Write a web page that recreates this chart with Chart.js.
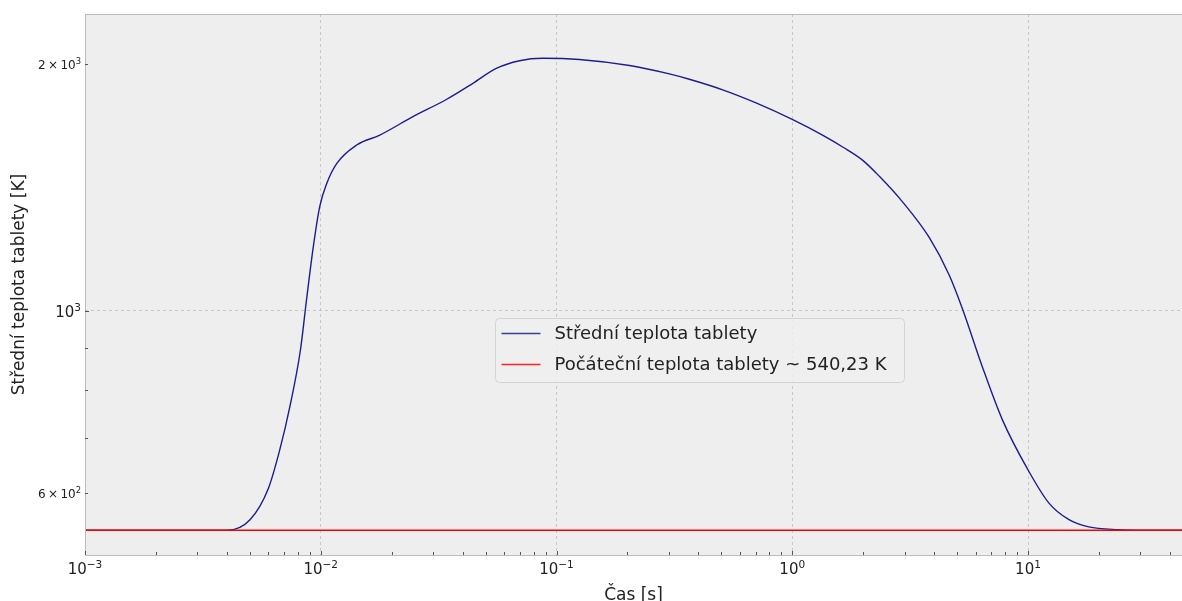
<!DOCTYPE html>
<html>
<head>
<meta charset="utf-8">
<script src="https://cdn.jsdelivr.net/npm/chart.js@4.4.1/dist/chart.umd.min.js"></script>
<style>
  html, body { margin: 0; padding: 0; background: #ffffff; }
  #wrap { position: relative; width: 1182px; height: 601px; overflow: hidden; }
</style>
</head>
<body>
<div id="wrap">
  <canvas id="c" width="1182" height="601"></canvas>
</div>
<script>
// ---- data ----
const timeS = [0.001, 0.004, 0.005, 0.006, 0.0067, 0.0074, 0.0082, 0.0087, 0.0093, 0.0099,
  0.0106, 0.0117, 0.0142, 0.0178, 0.0246, 0.0341, 0.0442, 0.0555, 0.0697, 0.0873,
  0.125, 0.204, 0.301, 0.366, 0.507, 0.702, 1.0, 1.344, 1.65, 1.986,
  2.336, 2.93, 3.81, 4.63, 5.27, 6.40, 7.78, 10.0, 12.27, 14.92,
  18.1, 24.2, 32.0, 45.0];
const meanTempK = [540.23, 540.23, 556, 608, 677, 765, 896, 1031, 1198, 1340,
  1430, 1513, 1593, 1638, 1725, 1810, 1894, 1975, 2018, 2032,
  2025, 1991, 1945, 1916, 1860, 1793, 1712, 1638, 1582, 1527,
  1460, 1359, 1229, 1106, 1006, 855, 737, 640, 583, 556.5,
  545.3, 541.2, 540.4, 540.3];
const initialTempK = 540.23;
const initialTimeRange = [0.001, 45];

const seriesLabels = ['Střední teplota tablety', 'Počáteční teplota tablety ~ 540,23 K'];
const seriesColors = ['#1c1c8f', '#ff0000'];

const xMajorTicks = [0.001, 0.01, 0.1, 1, 10];
const xTickLabels = ['10⁻³', '10⁻²', '10⁻¹', '10⁰', '10¹'];
const xMinorMultipliers = [2, 3, 4, 5, 6, 7, 8, 9];
const yTicks = [600, 700, 800, 900, 1000, 2000];
const yLabeledTicks = [600, 1000, 2000];
const yTickLabels = ['6 × 10²', '10³', '2 × 10³'];
const yMajorTicks = [1000];

const xAxisTitle = 'Čas [s]';
const yAxisTitle = 'Střední teplota tablety [K]';

// ---- build ticks ----
const xAllTicks = [];
xMajorTicks.forEach(d => {
  xAllTicks.push(d);
  xMinorMultipliers.forEach(m => { const v = +(d * m).toPrecision(6); if (v <= initialTimeRange[1]) xAllTicks.push(v); });
});
const isXMajor = v => xMajorTicks.some(m => Math.abs(m - v) / m < 1e-6);
const isYMajor = v => yMajorTicks.includes(v);
const xLabelFor = v => { const i = xMajorTicks.findIndex(m => Math.abs(m - v) / m < 1e-6); return i >= 0 ? xTickLabels[i] : ''; };
const yLabelFor = v => { const i = yLabeledTicks.indexOf(v); return i >= 0 ? yTickLabels[i] : ''; };

const FONT = '"DejaVu Sans", sans-serif';
const SUP = { '⁰':'0','¹':'1','²':'2','³':'3','⁴':'4','⁵':'5','⁶':'6','⁷':'7','⁸':'8','⁹':'9','⁻':'−' };
function splitSup(label) {
  let base = '', exp = '';
  for (const ch of label) { if (SUP[ch] !== undefined) exp += SUP[ch]; else base += ch; }
  return { base: base.replace(/ × /g, '\u2009×\u2009'), exp };
}
// draws label as math-like text: base + raised exponent
function drawMathLabel(ctx, label, x, baseline, size, anchor) {
  const { base, exp } = splitSup(label);
  const es = size * 0.7;
  ctx.font = size + 'px ' + FONT;
  const bw = ctx.measureText(base).width;
  ctx.font = es + 'px ' + FONT;
  const ew = ctx.measureText(exp).width;
  const total = bw + ew;
  const x0 = anchor === 'center' ? x - total / 2 : x - total;
  ctx.textAlign = 'left';
  ctx.textBaseline = 'alphabetic';
  ctx.font = size + 'px ' + FONT;
  ctx.fillText(base, x0, baseline);
  ctx.font = es + 'px ' + FONT;
  ctx.fillText(exp, x0 + bw, baseline - size * 0.42);
}

// legend box layout (pixels)
const LEGEND = { left: 495.5, top: 318.5, width: 409, height: 64, rowGap: 31, firstRow: 15, lineX0: 6, lineLen: 39, textX: 59, fontSize: 18 };

const bgPlugin = {
  id: 'bg',
  beforeDraw(chart) {
    const { ctx, chartArea: a } = chart;
    ctx.save();
    ctx.fillStyle = '#eeeeee';
    ctx.fillRect(a.left, a.top, a.right - a.left, a.bottom - a.top);
    ctx.restore();
  },
  afterDraw(chart) {
    const { ctx, chartArea: a } = chart;
    const xs = chart.scales.x, ys = chart.scales.y;
    ctx.save();
    // frame
    ctx.strokeStyle = '#bcbcbc';
    ctx.lineWidth = 1;
    ctx.beginPath();
    ctx.moveTo(a.right + 2, a.top + 0.5);
    ctx.lineTo(a.left + 0.5, a.top + 0.5);
    ctx.lineTo(a.left + 0.5, a.bottom + 0.5);
    ctx.lineTo(a.right + 2, a.bottom + 0.5);
    ctx.stroke();
    // inward tick marks
    ctx.strokeStyle = '#555555';
    xs.ticks.forEach(t => {
      const px = Math.round(xs.getPixelForValue(t.value)) + 0.5;
      const len = isXMajor(t.value) ? 4 : 3;
      ctx.beginPath(); ctx.moveTo(px, a.bottom); ctx.lineTo(px, a.bottom - len); ctx.stroke();
    });
    ys.ticks.forEach(t => {
      const py = Math.round(ys.getPixelForValue(t.value)) + 0.5;
      const len = isYMajor(t.value) ? 4 : 3;
      ctx.beginPath(); ctx.moveTo(a.left, py); ctx.lineTo(a.left + len, py); ctx.stroke();
    });
    // tick labels
    ctx.fillStyle = '#222222';
    xs.ticks.forEach(t => {
      const lbl = xLabelFor(t.value);
      if (!lbl) return;
      drawMathLabel(ctx, lbl, xs.getPixelForValue(t.value), a.bottom + 19, 15, 'center');
    });
    ys.ticks.forEach(t => {
      const lbl = yLabelFor(t.value);
      if (!lbl) return;
      const size = isYMajor(t.value) ? 15 : 12;
      drawMathLabel(ctx, lbl, a.left - 4, ys.getPixelForValue(t.value) + size * 0.729 / 2 + 1, size, 'right');
    });
    // legend
    const L = LEGEND;
    ctx.beginPath();
    ctx.roundRect(L.left, L.top, L.width, L.height, 4);
    ctx.fillStyle = 'rgba(238,238,238,0.85)';
    ctx.fill();
    ctx.strokeStyle = '#d4d4d4';
    ctx.lineWidth = 1;
    ctx.stroke();
    chart.data.datasets.forEach((ds, i) => {
      const cy = L.top + L.firstRow + i * L.rowGap;
      ctx.strokeStyle = ds.borderColor;
      ctx.globalAlpha = 0.85;
      ctx.lineWidth = 1.5;
      ctx.beginPath();
      ctx.moveTo(L.left + L.lineX0, cy);
      ctx.lineTo(L.left + L.lineX0 + L.lineLen, cy);
      ctx.stroke();
      ctx.globalAlpha = 1;
      ctx.fillStyle = '#222222';
      ctx.font = L.fontSize + 'px ' + FONT;
      ctx.textAlign = 'left';
      ctx.textBaseline = 'middle';
      ctx.fillText(ds.label, L.left + L.textX, cy + 0.5);
    });
    ctx.restore();
  }
};

const gridColor = 'rgba(178,178,178,0.65)';

const chart = new Chart(document.getElementById('c'), {
  type: 'line',
  data: {
    datasets: [
      {
        label: seriesLabels[0],
        data: timeS.map((t, i) => ({ x: t, y: meanTempK[i] })),
        borderColor: seriesColors[0],
        borderWidth: 1.4,
        pointRadius: 0,
        cubicInterpolationMode: 'monotone',
        fill: false,
        order: 2
      },
      {
        label: seriesLabels[1],
        data: initialTimeRange.map(t => ({ x: t, y: initialTempK })),
        borderColor: seriesColors[1],
        borderWidth: 1.4,
        pointRadius: 0,
        fill: false,
        order: 1
      }
    ]
  },
  options: {
    responsive: false,
    animation: false,
    devicePixelRatio: 1,
    layout: { padding: { top: 14, right: 0, bottom: 0, left: 0 } },
    plugins: { legend: { display: false }, tooltip: { enabled: false } },
    scales: {
      x: {
        type: 'logarithmic',
        min: initialTimeRange[0],
        max: initialTimeRange[1],
        afterBuildTicks: s => { s.ticks = xAllTicks.map(v => ({ value: v })); },
        afterFit: s => { s.height = 46; },
        border: { display: false, dash: [3, 3] },
        grid: {
          drawTicks: false,
          lineWidth: 1,
          color: c => (c.tick && isXMajor(c.tick.value)) ? gridColor : 'rgba(0,0,0,0)'
        },
        ticks: { display: false, autoSkip: false, callback: v => xLabelFor(v) },
        title: { display: true, text: xAxisTitle, color: '#222', font: { family: FONT, size: 17 }, padding: { top: 0, bottom: -5 } }
      },
      y: {
        type: 'logarithmic',
        min: 504,
        max: 2301,
        afterBuildTicks: s => { s.ticks = yTicks.map(v => ({ value: v })); },
        afterFit: s => { s.width = 85; },
        border: { display: false, dash: [3, 3] },
        grid: {
          drawTicks: false,
          lineWidth: 1,
          color: c => (c.tick && isYMajor(c.tick.value)) ? gridColor : 'rgba(0,0,0,0)'
        },
        ticks: { display: false, autoSkip: false, callback: v => yLabelFor(v) },
        title: { display: true, text: yAxisTitle, color: '#222', font: { family: FONT, size: 17 }, padding: { top: 9, bottom: 0 } }
      }
    }
  },
  plugins: [bgPlugin]
});
</script>
</body>
</html>
